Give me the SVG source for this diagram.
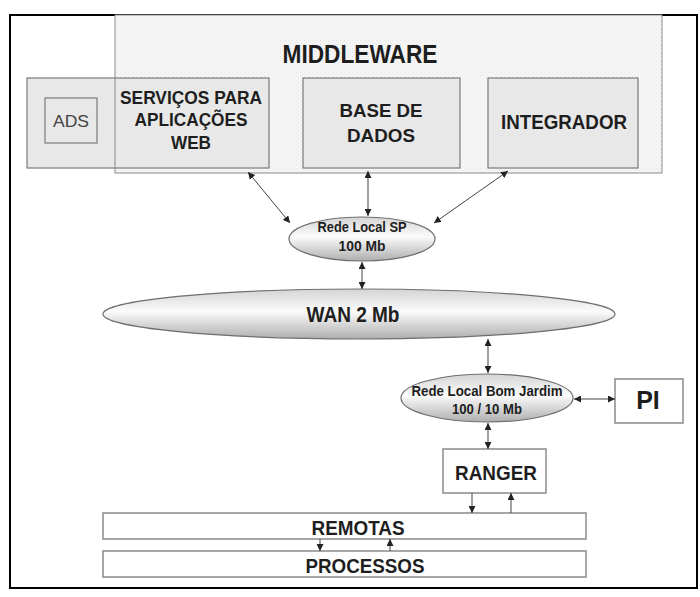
<svg xmlns="http://www.w3.org/2000/svg" width="700" height="597" viewBox="0 0 700 597">
<style>
text{font-family:"Liberation Sans",Arial,sans-serif;fill:#1e1e1e;text-anchor:middle}
.b{font-weight:bold}
.gbox{fill:#e8e8e8;stroke:#7a7a7a;stroke-width:1.2}
.wbox{fill:#ffffff;stroke:#8a8a8a;stroke-width:1.5}
.ell{fill:url(#eg);stroke:#6e6e6e;stroke-width:1.2}
.c{stroke:#444;stroke-width:1;fill:none}
</style>
<defs>
<pattern id="dots" width="4" height="4" patternUnits="userSpaceOnUse">
<rect width="4" height="4" fill="#f6f6f6"/>
<rect x="0" y="0" width="1" height="1" fill="#e2e2e2"/>
<rect x="2" y="2" width="1" height="1" fill="#e2e2e2"/>
</pattern>
<linearGradient id="eg" x1="0" y1="0" x2="0" y2="1">
<stop offset="0" stop-color="#d4d4d4"/>
<stop offset="0.45" stop-color="#fbfbfb"/>
<stop offset="1" stop-color="#aeaeae"/>
</linearGradient>
<marker id="ah" viewBox="0 0 10 10" refX="10" refY="5" markerWidth="7" markerHeight="7" markerUnits="userSpaceOnUse" orient="auto-start-reverse">
<path d="M0,0 L10,5 L0,10 Z" fill="#222"/>
</marker>
</defs>
<rect x="0" y="0" width="700" height="597" fill="#fff"/>
<rect id="frame" x="10" y="15" width="687" height="573" fill="none" stroke="#000" stroke-width="2"/>

<g id="middleware">
<rect x="115" y="15" width="547" height="158" fill="url(#dots)" stroke="#8a8a8a" stroke-width="1"/>
<text class="b" x="360" y="63" font-size="26" textLength="155" lengthAdjust="spacingAndGlyphs">MIDDLEWARE</text>
</g>

<g id="servicos">
<rect class="gbox" x="27" y="78" width="242" height="90"/>
<line x1="115" y1="78" x2="115" y2="168" stroke="#8a8a8a" stroke-width="1"/>
<text class="b" font-size="19" x="191" y="104" textLength="142" lengthAdjust="spacingAndGlyphs">SERVIÇOS PARA</text>
<text class="b" font-size="19" x="191" y="126" textLength="113" lengthAdjust="spacingAndGlyphs">APLICAÇÕES</text>
<text class="b" font-size="19" x="191" y="149" textLength="40" lengthAdjust="spacingAndGlyphs">WEB</text>
</g>

<g id="ads">
<rect class="gbox" x="45" y="98" width="52" height="45"/>
<text x="71" y="127" font-size="17" style="fill:#444" textLength="36" lengthAdjust="spacingAndGlyphs">ADS</text>
</g>

<g id="base">
<rect class="gbox" x="303" y="78" width="157" height="90"/>
<text class="b" font-size="19" x="381" y="117" textLength="83" lengthAdjust="spacingAndGlyphs">BASE DE</text>
<text class="b" font-size="19" x="381" y="142" textLength="68" lengthAdjust="spacingAndGlyphs">DADOS</text>
</g>

<g id="integrador">
<rect class="gbox" x="488" y="78" width="150" height="90"/>
<text class="b" font-size="20" x="564" y="129" textLength="126" lengthAdjust="spacingAndGlyphs">INTEGRADOR</text>
</g>

<g id="redesp">
<ellipse class="ell" cx="362" cy="239" rx="73" ry="22"/>
<text class="b" font-size="14.5" x="362" y="232" textLength="89" lengthAdjust="spacingAndGlyphs">Rede Local SP</text>
<text class="b" font-size="14.5" x="362" y="251" textLength="47" lengthAdjust="spacingAndGlyphs">100 Mb</text>
</g>

<g id="wan">
<ellipse class="ell" cx="359" cy="314" rx="256" ry="25"/>
<text class="b" font-size="22" x="353" y="322" textLength="93" lengthAdjust="spacingAndGlyphs">WAN 2 Mb</text>
</g>

<g id="redebj">
<ellipse class="ell" cx="487" cy="398" rx="86" ry="24"/>
<text class="b" font-size="14.5" x="487" y="396" textLength="151" lengthAdjust="spacingAndGlyphs">Rede Local Bom Jardim</text>
<text class="b" font-size="14.5" x="487" y="414" textLength="70" lengthAdjust="spacingAndGlyphs">100 / 10 Mb</text>
</g>

<g id="pi">
<rect class="wbox" x="615" y="379" width="68" height="44"/>
<text class="b" font-size="25" x="648" y="409">PI</text>
</g>

<g id="ranger">
<rect class="wbox" x="443" y="449" width="103" height="44"/>
<text class="b" font-size="20" x="496" y="480" textLength="82" lengthAdjust="spacingAndGlyphs">RANGER</text>
</g>

<g id="remotas">
<rect class="wbox" x="103" y="513" width="483" height="26"/>
<text class="b" font-size="20" x="358" y="535" textLength="93" lengthAdjust="spacingAndGlyphs">REMOTAS</text>
</g>

<g id="processos">
<rect class="wbox" x="103" y="551" width="483" height="26"/>
<text class="b" font-size="20" x="365" y="573" textLength="119" lengthAdjust="spacingAndGlyphs">PROCESSOS</text>
</g>

<g id="connectors">
<line class="c" x1="248" y1="172" x2="290" y2="223" marker-start="url(#ah)" marker-end="url(#ah)"/>
<line class="c" x1="368" y1="171" x2="368" y2="216" marker-start="url(#ah)" marker-end="url(#ah)"/>
<line class="c" x1="508" y1="171" x2="434" y2="223" marker-start="url(#ah)" marker-end="url(#ah)"/>
<line class="c" x1="362" y1="262" x2="362" y2="289" marker-start="url(#ah)" marker-end="url(#ah)"/>
<line class="c" x1="488" y1="339" x2="488" y2="373" marker-start="url(#ah)" marker-end="url(#ah)"/>
<line class="c" x1="574" y1="399" x2="615" y2="399" marker-start="url(#ah)" marker-end="url(#ah)"/>
<line class="c" x1="488" y1="423" x2="488" y2="449" marker-start="url(#ah)" marker-end="url(#ah)"/>
<line class="c" x1="472" y1="493" x2="472" y2="513" marker-end="url(#ah)"/>
<line class="c" x1="511" y1="513" x2="511" y2="493" marker-end="url(#ah)"/>
<line class="c" x1="320" y1="539" x2="320" y2="551" marker-end="url(#ah)"/>
<line class="c" x1="390" y1="551" x2="390" y2="539" marker-end="url(#ah)"/>
</g>
</svg>
